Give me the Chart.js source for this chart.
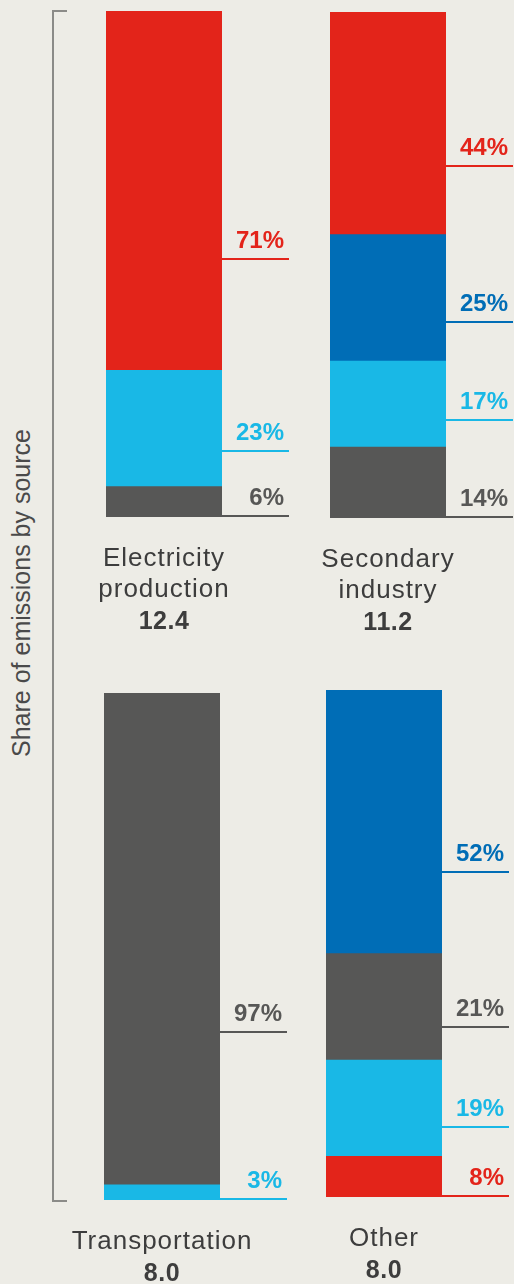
<!DOCTYPE html>
<html>
<head>
<meta charset="utf-8">
<script src="https://cdn.jsdelivr.net/npm/chart.js@4.4.1/dist/chart.umd.min.js"></script>
<style>
    html, body {
        margin: 0;
        padding: 0;
        background: #edece6;
    }
    #page {
        position: relative;
        width: 514px;
        height: 1284px;
        overflow: hidden;
        background: #edece6;
    }
    canvas {
        position: absolute;
    }
    #bracket {
        position: absolute;
        left: 52px;
        top: 10px;
        width: 13px;
        height: 1188px;
        border-left: 2px solid #8b8b88;
        border-top: 2px solid #8b8b88;
        border-bottom: 2px solid #8b8b88;
    }
    #axisTitle {
        position: absolute;
        left: 21px;
        top: 593px;
        transform: translate(-50%, -50%) rotate(-90deg);
        white-space: nowrap;
        font: 25px 'Liberation Sans', Arial, sans-serif;
        color: #4a4a4a;
    }
</style>
</head>
<body>
<div id="page">
    <div id="bracket"></div>
    <div id="axisTitle">Share of emissions by source</div>
    <canvas id="panel0" width="240" height="640" style="left:60px;top:0px"></canvas>
    <canvas id="panel1" width="214" height="640" style="left:300px;top:0px"></canvas>
    <canvas id="panel2" width="246" height="604" style="left:54px;top:680px"></canvas>
    <canvas id="panel3" width="214" height="604" style="left:300px;top:680px"></canvas>
</div>
<script>
// --- DATA ---
const categories = [['Electricity', 'production'], ['Secondary', 'industry'], ['Transportation'], ['Other']];
const totals = [12.4, 11.2, 8.0, 8.0];

const sources = ['Coal', 'Other fuels', 'Natural gas', 'Oil'];
const coalShare = [71, 44, 0, 8];
const otherFuelShare = [0, 25, 0, 52];
const gasShare = [23, 17, 3, 19];
const oilShare = [6, 14, 97, 21];

// stacking order inside each bar, bottom to top (index into sources)
const stackOrder = [
    [3, 2, 0],
    [3, 2, 1, 0],
    [2, 3],
    [0, 2, 3, 1],
];

const sourceShares = [coalShare, otherFuelShare, gasShare, oilShare];
const sourceColors = ['#e3241a', '#006db6', '#19b8e6', '#575756'];

// --- LAYOUT ---
// chart area = the bar itself; the padding holds leader lines and labels
const panelPadding = [
    { left: 46, right: 78, top: 11, bottom: 123 },
    { left: 30, right: 68, top: 12, bottom: 122 },
    { left: 50, right: 80, top: 13, bottom: 84 },
    { left: 26, right: 72, top: 10, bottom: 87 },
];
const LEADER_LEN = 67;

const leaderPlugin = {
    id: 'leaders',
    afterDatasetsDraw(chart) {
        const ctx = chart.ctx;
        const area = chart.chartArea;
        chart.data.datasets.forEach((ds, i) => {
            const el = chart.getDatasetMeta(i).data[0];
            if (!el) return;
            const right = el.x + el.width / 2;
            let lineY;
            if (i === 0) {
                lineY = area.bottom - 1;
            } else {
                lineY = Math.round(el.y + 0.69 * (el.base - el.y));
            }
            ctx.save();
            ctx.strokeStyle = ds.backgroundColor;
            ctx.lineWidth = 2;
            ctx.beginPath();
            ctx.moveTo(right, lineY);
            ctx.lineTo(right + LEADER_LEN, lineY);
            ctx.stroke();
            ctx.fillStyle = ds.backgroundColor;
            ctx.font = 'bold 24px "Liberation Sans", Arial, sans-serif';
            ctx.textAlign = 'right';
            ctx.textBaseline = 'alphabetic';
            ctx.fillText(ds.data[0] + '%', right + LEADER_LEN - 5, lineY - 11);
            ctx.restore();
        });
    },
};

const categoryLabelPlugin = {
    id: 'catLabels',
    afterDraw(chart) {
        const ctx = chart.ctx;
        const idx = chart.options.plugins.catLabels.index;
        const el = chart.getDatasetMeta(0).data[0];
        const cx = el.x;
        let y = chart.chartArea.bottom + 49;
        ctx.save();
        ctx.fillStyle = '#3d3d3d';
        ctx.textAlign = 'center';
        ctx.textBaseline = 'alphabetic';
        ctx.letterSpacing = '1px';
        ctx.font = '26px "Liberation Sans", Arial, sans-serif';
        categories[idx].forEach((line) => {
            ctx.fillText(line, cx, y);
            y += 31;
        });
        ctx.letterSpacing = '0.5px';
        ctx.font = 'bold 25px "Liberation Sans", Arial, sans-serif';
        ctx.fillText(totals[idx].toFixed(1), cx, y + 1);
        ctx.restore();
    },
};

function buildPanel(idx) {
    const datasets = stackOrder[idx].map((s) => ({
        label: sources[s],
        data: [sourceShares[s][idx]],
        backgroundColor: sourceColors[s],
        borderWidth: 0,
        barPercentage: 1,
        categoryPercentage: 1,
        stack: 'share',
    }));

    new Chart(document.getElementById('panel' + idx), {
        type: 'bar',
        data: { labels: [categories[idx].join(' ')], datasets },
        options: {
            responsive: false,
            animation: false,
            layout: { padding: panelPadding[idx] },
            plugins: {
                legend: { display: false },
                tooltip: { enabled: false },
                catLabels: { index: idx },
            },
            scales: {
                x: { stacked: true, display: false },
                y: { stacked: true, display: false, min: 0, max: 100 },
            },
        },
        plugins: [leaderPlugin, categoryLabelPlugin],
    });
}

[0, 1, 2, 3].forEach(buildPanel);
</script>
</body>
</html>
